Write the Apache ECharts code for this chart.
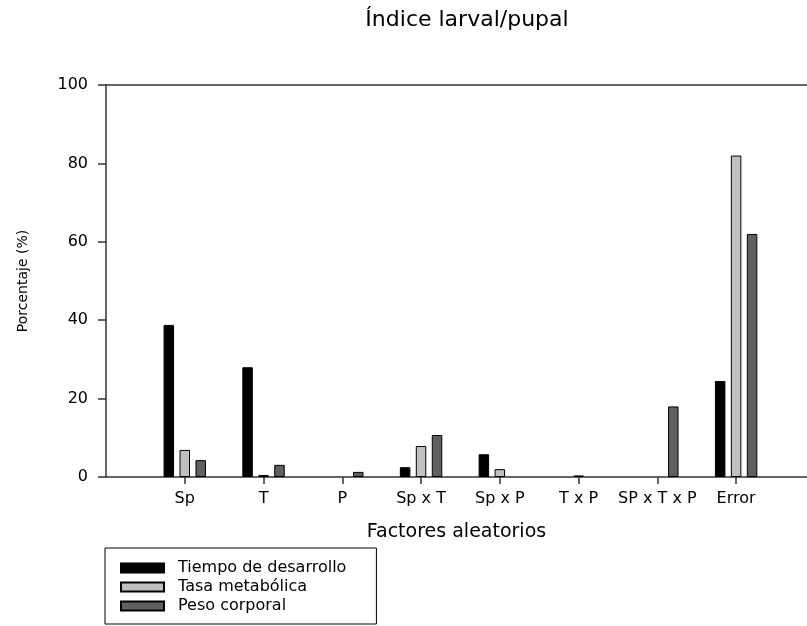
<!DOCTYPE html>
<html>
<head>
<meta charset="utf-8">
<script src="https://cdn.jsdelivr.net/npm/echarts@6/dist/echarts.min.js"></script>
<style>
html,body{margin:0;padding:0;background:#fff;}
#chart{width:807px;height:626px;}
</style>
</head>
<body>
<div id="chart"></div>
<script>
const categories = ['Sp', 'T', 'P', 'Sp x T', 'Sp x P', 'T x P', 'SP x T x P', 'Error'];
const seriesNames = ['Tiempo de desarrollo', 'Tasa metabólica', 'Peso corporal'];
const tiempoDesarrollo = [38.8, 28.0, 0, 2.5, 5.8, 0, 0, 24.5];
const tasaMetabolica = [6.9, 0.5, 0, 7.9, 2.0, 0.4, 0, 82.0];
const pesoCorporal = [4.3, 3.1, 1.3, 10.7, 0, 0, 18.0, 62.0];
const yTicks = [0, 20, 40, 60, 80, 100];

const FONT = 'DejaVu Sans';
const catPositions = categories.map((c, i) => i + 1);
// zero values are not drawn in the reference (no visible bar)
const toPairs = arr => arr.map((v, i) => [i + 1, v === 0 ? '-' : v]);
const fills = ['#000000', '#c0c0c0', '#606060'];
const allValues = [tiempoDesarrollo, tasaMetabolica, pesoCorporal];

const chart = echarts.init(document.getElementById('chart'), null, {renderer: 'canvas'});
chart.setOption({
  animation: false,
  backgroundColor: '#ffffff',
  title: {
    text: 'Índice larval/pupal',
    left: 462,
    textAlign: 'center',
    top: 4,
    textStyle: {fontFamily: FONT, fontSize: 22, fontWeight: 'normal', color: '#000'}
  },
  grid: {left: 106, right: 0, top: 85, bottom: 149, containLabel: false},
  legend: {
    orient: 'vertical',
    left: 105,
    top: 548,
    padding: [12, 30, 10, 15],
    itemGap: 3,
    itemWidth: 43,
    itemHeight: 9,
    icon: 'rect',
    borderColor: '#000',
    borderWidth: 1,
    selectedMode: false,
    textStyle: {fontFamily: FONT, fontSize: 16, color: '#000', padding: [0, 0, 0, 9]},
    data: seriesNames
  },
  xAxis: [{
    type: 'value',
    min: 0,
    max: 8.9,
    name: 'Factores aleatorios',
    nameLocation: 'middle',
    nameGap: 46,
    nameTextStyle: {fontFamily: FONT, fontSize: 19, color: '#000'},
    axisLine: {show: true, lineStyle: {color: '#333', width: 1.5}},
    axisTick: {show: true, length: 7, customValues: catPositions, lineStyle: {color: '#333', width: 1.5}},
    axisLabel: {
      customValues: catPositions,
      margin: 14,
      fontFamily: FONT, fontSize: 16, color: '#000',
      formatter: v => categories[Math.round(v) - 1] || ''
    },
    splitLine: {show: false}
  }, {
    type: 'value',
    position: 'top',
    min: 0,
    max: 8.9,
    axisLine: {show: true, lineStyle: {color: '#333', width: 1.5}},
    axisTick: {show: false},
    axisLabel: {show: false},
    splitLine: {show: false}
  }],
  yAxis: {
    type: 'value',
    min: 0,
    max: 100,
    interval: 20,
    name: 'Porcentaje (%)',
    nameLocation: 'middle',
    nameGap: 76,
    nameTextStyle: {fontFamily: FONT, fontSize: 14, color: '#000'},
    axisLine: {show: true, lineStyle: {color: '#333', width: 1.5}},
    axisTick: {show: true, inside: false, length: 8, lineStyle: {color: '#333', width: 1.5}},
    axisLabel: {
      margin: 18, fontFamily: FONT, fontSize: 16, color: '#000',
      customValues: yTicks
    },
    splitLine: {show: false}
  },
  series: seriesNames.map((name, k) => ({
    name: name,
    type: 'bar',
    xAxisIndex: 0,
    barWidth: 10.5,
    barGap: '52%',
    itemStyle: {color: fills[k], borderColor: '#000', borderWidth: 1},
    data: toPairs(allValues[k])
  }))
});
</script>
</body>
</html>
